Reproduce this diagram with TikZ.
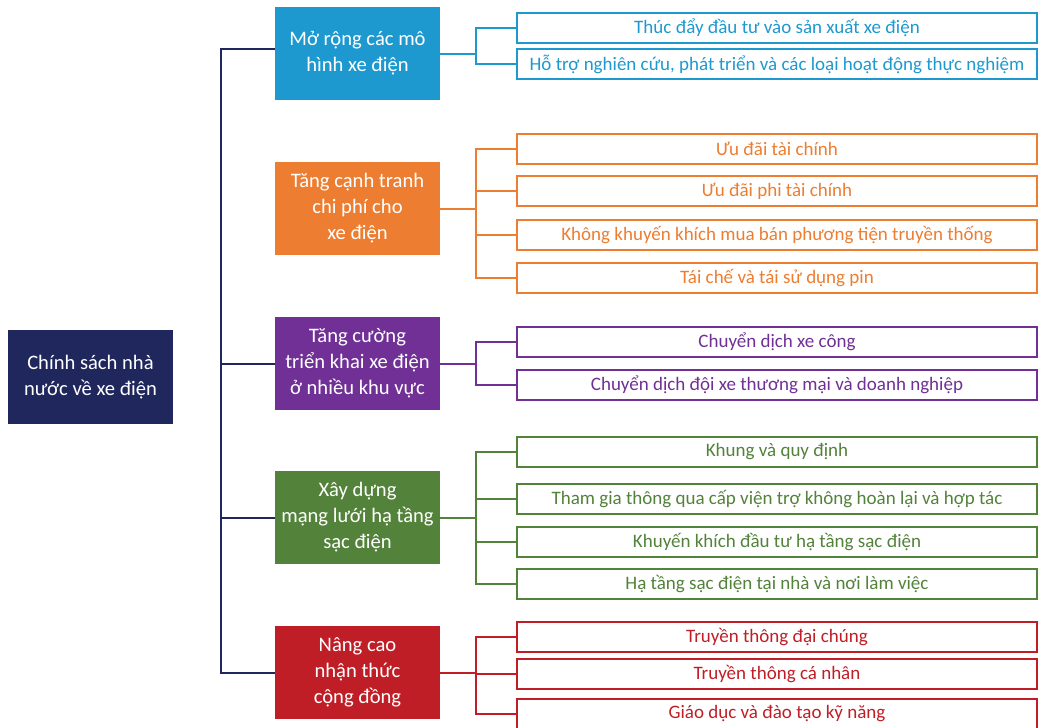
\documentclass[tikz,border=0pt]{standalone}
\usepackage{fontspec}
\setmainfont{Carlito}
\definecolor{navy}{RGB}{31,39,92}
\definecolor{cblue}{RGB}{30,153,208}
\definecolor{corange}{RGB}{237,125,49}
\definecolor{cpurple}{RGB}{112,48,150}
\definecolor{cgreen}{RGB}{83,130,58}
\definecolor{cred}{RGB}{192,30,38}
\begin{document}
\begin{tikzpicture}[x=1pt, y=-1pt,
    headbox/.style={minimum width=165pt, minimum height=93pt, inner sep=0pt, align=center,
        text=white, font=\fontsize{20.6}{26}\selectfont},
    leafbox/.style={draw=#1, line width=2pt, fill=white, text=#1, minimum width=520pt,
        minimum height=30pt, inner sep=0pt, font=\fontsize{19}{22}\selectfont},
    link/.style={line width=2pt, #1}]
    \useasboundingbox (0,0) rectangle (1039,728);
    \coordinate (bus) at (221,0);
    \coordinate (sub) at (476,0);
    % root and the five policy groups
    \node[headbox, fill=navy, minimum height=94pt] (root) at (90.5,377) {Chính sách nhà\\nước về xe điện};
    \node[headbox, fill=cblue] (mr) at (357.5,53.5) {Mở rộng các mô\\hình xe điện};
    \node[headbox, fill=corange] (cp) at (357.5,208.5) {Tăng cạnh tranh\\chi phí cho\\xe điện};
    \node[headbox, fill=cpurple] (tk) at (357.5,363.5) {Tăng cường\\triển khai xe điện\\ở nhiều khu vực};
    \node[headbox, fill=cgreen] (hl) at (357.5,517.5) {Xây dựng\\mạng lưới hạ tầng\\sạc điện};
    \node[headbox, fill=cred] (nc) at (357.5,672.5) {Nâng cao\\nhận thức\\cộng đồng};
    % leaves
    \node[leafbox=cblue] (mr1) at (777,28) {Thúc đẩy đầu tư vào sản xuất xe điện};
    \node[leafbox=cblue] (mr2) at (777,64) {Hỗ trợ nghiên cứu, phát triển và các loại hoạt động thực nghiệm};
    \node[leafbox=corange] (cp1) at (777,149) {Ưu đãi tài chính};
    \node[leafbox=corange] (cp2) at (777,191) {Ưu đãi phi tài chính};
    \node[leafbox=corange] (cp3) at (777,235) {Không khuyến khích mua bán phương tiện truyền thống};
    \node[leafbox=corange] (cp4) at (777,278) {Tái chế và tái sử dụng pin};
    \node[leafbox=cpurple] (tk1) at (777,342) {Chuyển dịch xe công};
    \node[leafbox=cpurple] (tk2) at (777,385) {Chuyển dịch đội xe thương mại và doanh nghiệp};
    \node[leafbox=cgreen] (hl1) at (777,452) {Khung và quy định};
    \node[leafbox=cgreen] (hl2) at (777,499) {Tham gia thông qua cấp viện trợ không hoàn lại và hợp tác};
    \node[leafbox=cgreen] (hl3) at (777,542) {Khuyến khích đầu tư hạ tầng sạc điện};
    \node[leafbox=cgreen] (hl4) at (777,584) {Hạ tầng sạc điện tại nhà và nơi làm việc};
    \node[leafbox=cred] (nc1) at (777,637) {Truyền thông đại chúng};
    \node[leafbox=cred] (nc2) at (777,674) {Truyền thông cá nhân};
    \node[leafbox=cred] (nc3) at (777,714) {Giáo dục và đào tạo kỹ năng};
    % main bus
    \draw[link=navy] ([yshift=4.5pt]mr.west) -- ([yshift=4.5pt]mr.west -| bus) |- (nc.west);
    \draw[link=navy] (tk.west -| bus) -- (tk.west);
    \draw[link=navy] (hl.west -| bus) -- (hl.west);
    % sub buses
    \draw[link=cblue] (mr.east) -- (mr.east -| sub);
    \draw[link=cblue] (mr1.west) -| (sub |- mr2.west) -- (mr2.west);
    \draw[link=corange] (cp.east) -- (cp.east -| sub);
    \draw[link=corange] (cp1.west) -| (sub |- cp4.west) -- (cp4.west);
    \draw[link=corange] (cp2.west) -- (cp2.west -| sub);
    \draw[link=corange] (cp3.west) -- (cp3.west -| sub);
    \draw[link=cpurple] (tk.east) -- (tk.east -| sub);
    \draw[link=cpurple] (tk1.west) -| (sub |- tk2.west) -- (tk2.west);
    \draw[link=cgreen] (hl.east) -- (hl.east -| sub);
    \draw[link=cgreen] (hl1.west) -| (sub |- hl4.west) -- (hl4.west);
    \draw[link=cgreen] (hl2.west) -- (hl2.west -| sub);
    \draw[link=cgreen] (hl3.west) -- (hl3.west -| sub);
    \draw[link=cred] (nc.east) -- (nc.east -| sub);
    \draw[link=cred] (nc1.west) -| (sub |- nc3.west) -- (nc3.west);
    \draw[link=cred] (nc2.west) -- (nc2.west -| sub);
\end{tikzpicture}
\end{document}
